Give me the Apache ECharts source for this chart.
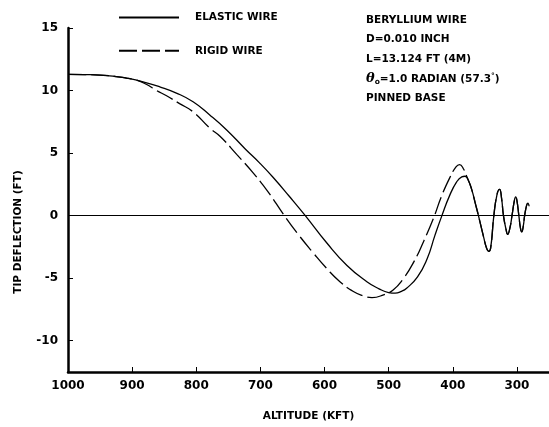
<!DOCTYPE html>
<html>
<head>
<meta charset="utf-8">
<script src="https://cdn.jsdelivr.net/npm/echarts@6/dist/echarts.min.js"></script>
<style>
html,body{margin:0;padding:0;background:#fff}
#chart{width:549px;height:427px}
</style>
</head>
<body>
<div id="chart"></div>
<script>
// altitude (kft) and tip deflection (ft)
var elasticAlt = [1000, 975, 950, 925, 909, 883, 857, 831, 805, 779, 753, 724, 701, 680, 655, 630, 597, 565, 534, 515, 500, 490, 480, 472, 455, 440, 428, 417, 405, 394, 386, 381, 376, 370, 365, 360, 352, 347, 344, 341, 336, 331, 327, 324, 321, 317, 314.5, 311, 307.7, 304, 302, 300, 297, 294.5, 292.5, 290, 288, 285, 283, 281];
var elasticDef = [11.3, 11.28, 11.24, 11.12, 11.0, 10.7, 10.3, 9.8, 9.1, 8.05, 6.87, 5.35, 4.2, 3.05, 1.55, 0, -2.15, -3.98, -5.28, -5.85, -6.15, -6.2, -6.05, -5.8, -4.9, -3.45, -1.6, 0, 1.6, 2.7, 3.1, 3.15, 2.85, 2.0, 1.0, 0, -1.7, -2.65, -2.85, -2.6, 0, 1.7, 2.1, 1.4, 0, -1.1, -1.5, -1.0, 0, 1.2, 1.5, 1.2, 0, -1.0, -1.3, -0.8, 0, 0.8, 1.0, 0.75];

var rigidAlt = [1000, 975, 950, 925, 909, 894, 878, 862, 847, 826, 805, 779, 763, 737, 711, 688, 664, 641, 618, 597, 576, 555, 540, 526, 508, 493, 478, 461, 445, 430, 418, 405, 395, 389.5, 383.3, 378, 374, 370, 365, 360, 352, 347, 344, 341, 336, 331, 327, 324, 321, 317, 314.5, 311, 307.7, 304, 302, 300, 297, 294.5, 292.5, 290, 288, 285, 283, 281];
var rigidDef = [11.3, 11.28, 11.24, 11.12, 11.0, 10.85, 10.5, 10.0, 9.6, 8.95, 8.3, 7.0, 6.35, 4.9, 3.4, 1.9, 0.1, -1.5, -2.95, -4.2, -5.28, -6.07, -6.4, -6.55, -6.33, -5.94, -5.1, -3.72, -2.0, -0.2, 1.5, 3.0, 3.9, 4.08, 3.73, 3.1, 2.6, 2.0, 1.0, 0, -1.7, -2.65, -2.85, -2.6, 0, 1.7, 2.1, 1.4, 0, -1.1, -1.5, -1.0, 0, 1.2, 1.5, 1.2, 0, -1.0, -1.3, -0.8, 0, 0.8, 1.0, 0.75];

var xTicks = [1000, 900, 800, 700, 600, 500, 400, 300];
var yTicks = [-10, -5, 0, 5, 10, 15];
var notes = ['BERYLLIUM WIRE', 'D=0.010 INCH', 'L=13.124 FT (4M)', '{th|θ}{sub|o}=1.0 RADIAN (57.3{sup|°})', 'PINNED BASE'];

function zip(a, b) {
  var out = [];
  for (var i = 0; i < a.length; i++) out.push([a[i], b[i]]);
  return out;
}

var chart = echarts.init(document.getElementById('chart'));
var lab = {fontFamily: 'DejaVu Sans', fontWeight: 'bold', fontSize: 10.5, color: '#000'};
var tickLab = {fontFamily: 'DejaVu Sans', fontWeight: 'bold', fontSize: 12, color: '#000'};

var option = {
  animation: false,
  backgroundColor: '#fff',
  grid: {left: 68, right: 0, top: 28, bottom: 48.5},
  legend: {
    orient: 'vertical',
    left: 113,
    top: 7,
    itemWidth: 60,
    itemHeight: 14,
    itemGap: 22,
    data: ['ELASTIC WIRE', 'RIGID WIRE'],
    itemStyle: {opacity: 0},
    textStyle: Object.assign({padding: [0, 0, 0, 11]}, lab)
  },
  title: {
    left: 361,
    top: 5,
    text: notes.join('\n'),
    textStyle: Object.assign({lineHeight: 19.7, rich: {
      th: {fontFamily: 'DejaVu Serif', fontStyle: 'italic', fontSize: 13, color: '#000', lineHeight: 19.7},
      sub: {fontFamily: 'DejaVu Sans', fontWeight: 'bold', fontSize: 7.5, color: '#000', padding: [7, 0, 0, 0], lineHeight: 19.7},
      sup: {fontFamily: 'DejaVu Sans', fontWeight: 'bold', fontSize: 7.5, color: '#000', padding: [0, 0, 5, 0], lineHeight: 19.7}
    }}, lab)
  },
  xAxis: {
    type: 'value',
    inverse: true,
    min: 250,
    max: 1000,
    name: 'ALTITUDE (KFT)',
    nameLocation: 'middle',
    nameGap: 39,
    nameTextStyle: lab,
    axisLine: {show: true, onZero: false, lineStyle: {color: '#000', width: 2.5}},
    axisTick: {show: true, inside: true, length: 5, customValues: xTicks, lineStyle: {color: '#000', width: 1}},
    axisLabel: Object.assign({customValues: xTicks, margin: 8, formatter: function (v) { return String(v); }}, tickLab),
    splitLine: {show: false}
  },
  yAxis: {
    type: 'value',
    min: -12.5,
    max: 15,
    name: 'TIP DEFLECTION (FT)',
    nameLocation: 'middle',
    nameGap: 44,
    nameTextStyle: Object.assign({padding: [0, 64, 0, 0]}, lab),
    axisLine: {show: true, lineStyle: {color: '#000', width: 2.5}},
    axisTick: {show: true, inside: true, length: 5, customValues: yTicks, lineStyle: {color: '#000', width: 1}},
    axisLabel: Object.assign({customValues: yTicks, margin: 10}, tickLab),
    splitLine: {show: false}
  },
  series: [
    {
      name: 'ELASTIC WIRE',
      type: 'line',
      data: zip(elasticAlt, elasticDef),
      smooth: 0.5,
      symbol: 'none',
      lineStyle: {color: '#000', width: 1.3},
      itemStyle: {color: '#000'},
      markLine: {
        silent: true,
        symbol: ['none', 'none'],
        label: {show: false},
        lineStyle: {color: '#000', width: 1.2, type: 'solid'},
        data: [{yAxis: 0}]
      }
    },
    {
      name: 'RIGID WIRE',
      type: 'line',
      data: zip(rigidAlt, rigidDef),
      smooth: 0.5,
      symbol: 'none',
      lineStyle: {color: '#000', width: 1.3, type: [18, 5]},
      itemStyle: {color: '#000'}
    }
  ]
};
chart.setOption(option);
</script>
</body>
</html>
